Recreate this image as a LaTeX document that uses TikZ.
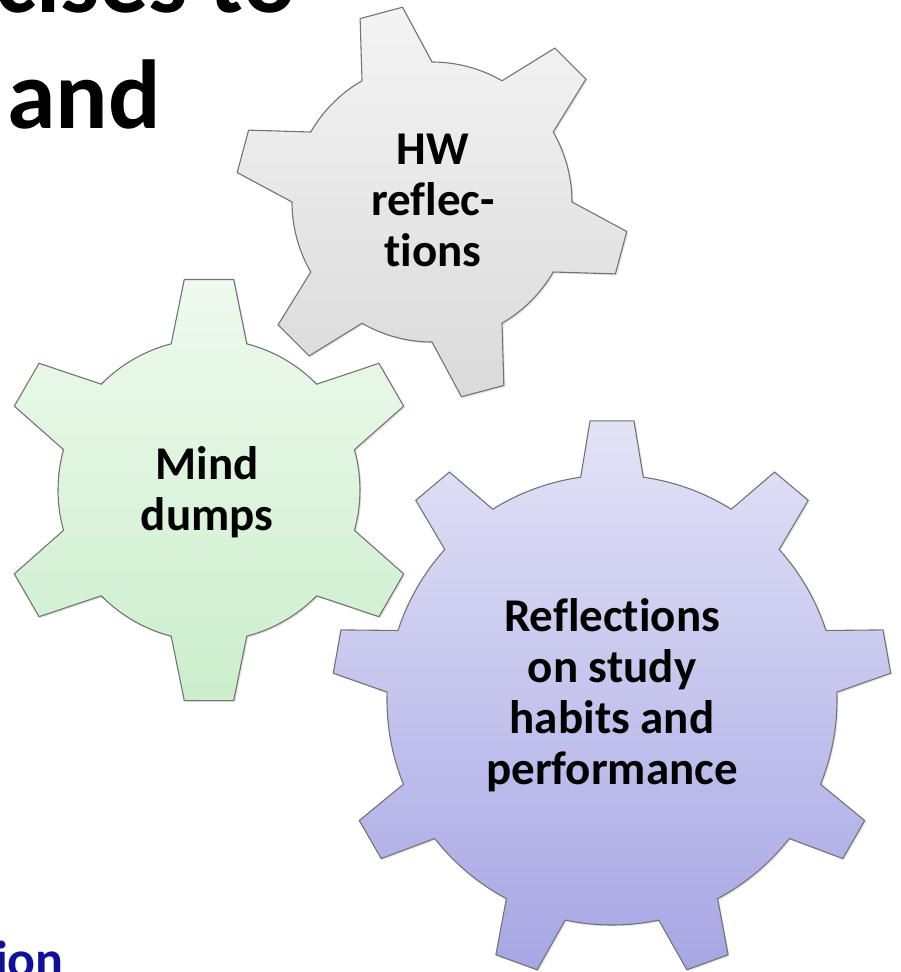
\documentclass[tikz,border=0pt]{standalone}
\usepackage{fontspec}
\setmainfont{Carlito}[Ligatures={NoCommon}]
\definecolor{grayTop}{HTML}{F4F4F4}
\definecolor{grayBot}{HTML}{DADADA}
\definecolor{greenTop}{HTML}{EEFAEE}
\definecolor{greenBot}{HTML}{CCEECC}
\definecolor{blueTop}{HTML}{E3E3F7}
\definecolor{blueBot}{HTML}{A6A6E4}
\definecolor{gearLine}{HTML}{737373}
\definecolor{titleBlue}{HTML}{10109A}
\tikzset{
  gearbase/.style={draw=gearLine, line width=1.1pt, line join=miter},
  gearshadow/.style={fill=black, fill opacity=0.10, draw=none},
  geargray/.style={gearbase, top color=grayTop, bottom color=grayBot},
  geargreen/.style={gearbase, top color=greenTop, bottom color=greenBot},
  gearblue/.style={gearbase, top color=blueTop, bottom color=blueBot},
  geartext/.style={align=center, inner sep=0pt, text=black,
    font=\bfseries\fontsize{47}{51}\selectfont},
  titletext/.style={anchor=base west, inner sep=0pt, text=black,
    font=\bfseries\fontsize{98}{116}\selectfont}
}
\newcommand\graygearpath{(90:140pt)
  \foreach \k in {0,...,5}{
    -- ({105+60*\k-6.4}:197pt) -- ({105+60*\k+6.4}:197pt) -- ({105+60*\k+15}:140pt)
    arc[start angle={105+60*\k+15}, end angle={105+60*\k+45}, radius=140pt]
  } -- cycle}
\newcommand\greengearpath{(75.5:151pt)
  \foreach \k in {0,...,5}{
    -- ({90+60*\k-6.7}:212pt) -- ({90+60*\k+6.7}:212pt) -- ({90+60*\k+14.5}:151pt)
    arc[start angle={90+60*\k+14.5}, end angle={90+60*\k+45.5}, radius=151pt]
  } -- cycle}
\newcommand\bluegearpath{(82:225pt)
  \foreach \k in {0,...,8}{
    -- ({90+40*\k-4.5}:280pt) -- ({90+40*\k+4.5}:280pt) -- ({90+40*\k+8}:225pt)
    arc[start angle={90+40*\k+8}, end angle={90+40*\k+32}, radius=225pt]
  } -- cycle}
\begin{document}
\begin{tikzpicture}
\useasboundingbox (0pt,0pt) rectangle (900pt,-972pt);
% title fragments
\node[titletext] (title1) at (-5pt,-12pt) {cises to};
\node[titletext] (title2) at (7pt,-128pt) {and};
\node[anchor=base west, inner sep=0pt, text=titleBlue,
  font=\bfseries\fontsize{52}{60}\selectfont] (ion) at (-5pt,-977pt) {ion};
% gray gear
\begin{scope}[shift={(433.5pt,-203.5pt)}]
\path[gearshadow] \graygearpath;
\end{scope}
\begin{scope}[shift={(432pt,-202pt)}]
\path[geargray] \graygearpath;
\end{scope}
% green gear
\begin{scope}[shift={(210.5pt,-491.5pt)}]
\path[gearshadow] \greengearpath;
\end{scope}
\begin{scope}[shift={(209pt,-490pt)}]
\path[geargreen] \greengearpath;
\end{scope}
% blue gear
\begin{scope}[shift={(613.5pt,-701.5pt)}]
\path[gearshadow] \bluegearpath;
\end{scope}
\begin{scope}[shift={(612pt,-700pt)}]
\path[gearblue] \bluegearpath;
\end{scope}
% gear labels
\node[geartext] (hw) at (433pt,-200pt) {HW\\reflec-\\tions};
\node[geartext] (mind) at (207pt,-492pt) {Mind\\dumps};
\node[geartext] (refl) at (612pt,-695pt) {Reflections\\on study\\habits and\\performance};
\end{tikzpicture}
\end{document}
